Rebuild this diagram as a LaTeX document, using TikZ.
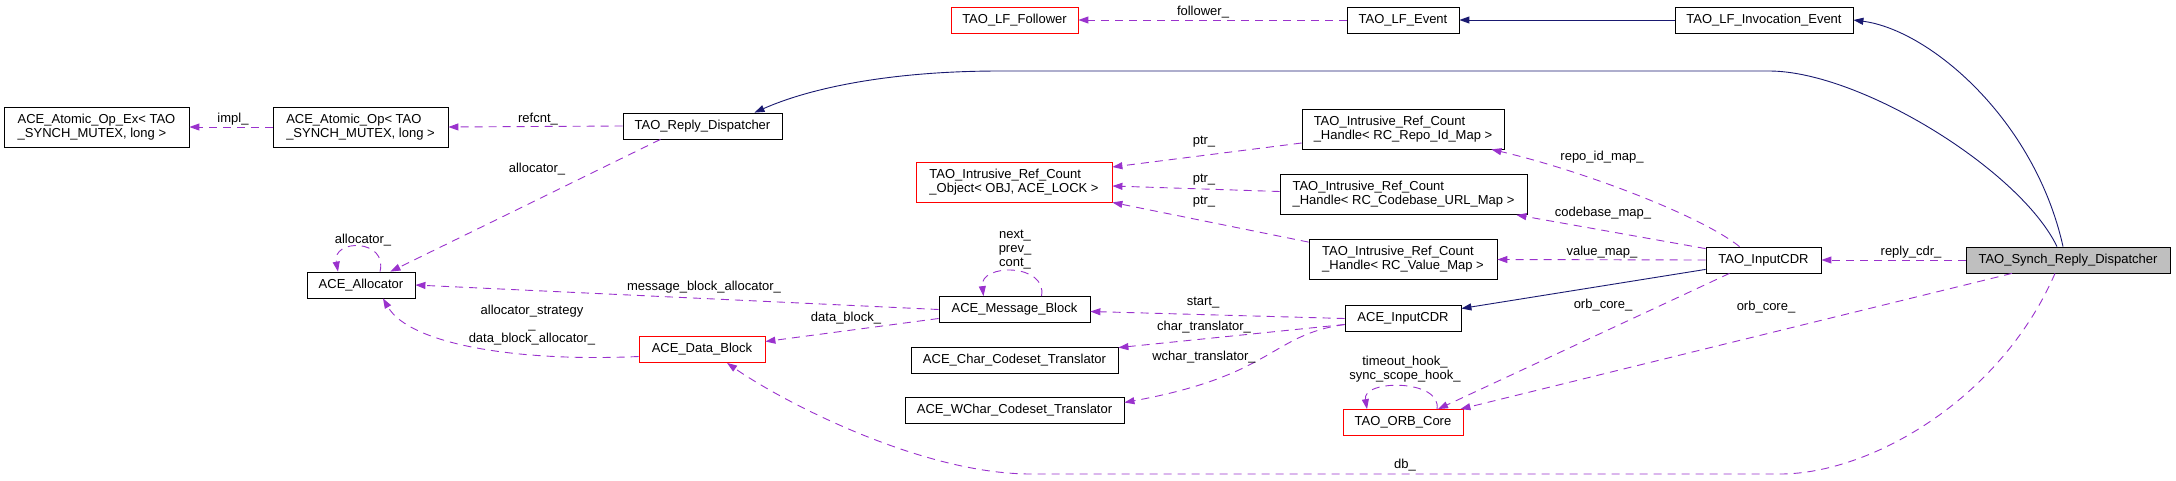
\documentclass[tikz,border=0pt]{standalone}
\usepackage{fontspec}
\setmainfont{Liberation Sans}
\usetikzlibrary{arrows.meta,calc}
\definecolor{mbrcol}{HTML}{9A32CD}
\definecolor{inhcol}{HTML}{191970}
\begin{document}
\begin{tikzpicture}[x=1pt,y=-1pt,font=\fontsize{13}{14}\selectfont,
    cls/.style={draw,line width=0.8pt,inner sep=0pt,minimum height=26pt,align=left},
    hot/.style={cls,draw=red},
    lbl/.style={inner sep=0pt,align=center},
    mbr/.style={draw=mbrcol,line width=0.9pt,dash pattern=on 8pt off 6pt,-{Triangle[length=10pt,width=7pt]}},
    inh/.style={draw=inhcol,line width=0.9pt,-{Triangle[length=10pt,width=7pt]}}]
    \useasboundingbox (0,0) rectangle (2176,480);

    \node[cls,minimum width=185pt,minimum height=40pt] (AOX) at (96.5,127) {ACE\_Atomic\_Op\_Ex< TAO\\\_SYNCH\_MUTEX, long >};
    \node[cls,minimum width=175pt,minimum height=40pt] (AO) at (360.5,127) {ACE\_Atomic\_Op< TAO\\\_SYNCH\_MUTEX, long >};
    \node[cls,minimum width=159pt] (RD) at (702.5,126) {TAO\_Reply\_Dispatcher};
    \node[hot,minimum width=127pt] (LFF) at (1014.5,20) {TAO\_LF\_Follower};
    \node[cls,minimum width=112pt] (LFE) at (1403,20) {TAO\_LF\_Event};
    \node[cls,minimum width=178pt] (LFI) at (1764,20) {TAO\_LF\_Invocation\_Event};
    \node[hot,minimum width=196pt,minimum height=40pt] (RCO) at (1014,182) {TAO\_Intrusive\_Ref\_Count\\\_Object< OBJ, ACE\_LOCK >};
    \node[cls,minimum width=202pt,minimum height=40pt] (HR) at (1403,129) {TAO\_Intrusive\_Ref\_Count\\\_Handle< RC\_Repo\_Id\_Map >};
    \node[cls,minimum width=247pt,minimum height=40pt] (HC) at (1403.5,194.5) {TAO\_Intrusive\_Ref\_Count\\\_Handle< RC\_Codebase\_URL\_Map >};
    \node[cls,minimum width=188pt,minimum height=40pt] (HV) at (1403,259.5) {TAO\_Intrusive\_Ref\_Count\\\_Handle< RC\_Value\_Map >};
    \node[cls,minimum width=108pt] (AL) at (361,285) {ACE\_Allocator};
    \node[cls,minimum width=151pt] (MB) at (1014.5,309.5) {ACE\_Message\_Block};
    \node[hot,minimum width=126pt] (DB) at (702,349.5) {ACE\_Data\_Block};
    \node[cls,minimum width=207pt] (CT) at (1014.5,360) {ACE\_Char\_Codeset\_Translator};
    \node[cls,minimum width=219pt] (WT) at (1014.5,410.5) {ACE\_WChar\_Codeset\_Translator};
    \node[cls,minimum width=116pt] (AIC) at (1403,318.5) {ACE\_InputCDR};
    \node[hot,minimum width=120pt] (OC) at (1403,422.5) {TAO\_ORB\_Core};
    \node[cls,minimum width=115pt] (TIC) at (1763.5,260) {TAO\_InputCDR};
    \node[cls,fill=gray!50,minimum width=204pt] (SRD) at (2068,260) {TAO\_Synch\_Reply\_Dispatcher};

    \draw[mbr] (AO.west) -- (AOX.east);
    \draw[mbr] (RD.west) -- (AO.east);
    \draw[mbr] ($(RD.south)+(-42,0)$) -- ($(AL.north east)+(-25,0)$);
    \draw[mbr] ($(AL.north)+(19,0)$) .. controls +(8,-33) and +(-6,-33) .. ($(AL.north)+(-23,0)$);
    \draw[mbr] (MB.west) -- (AL.east);
    \draw[mbr] ($(DB.west)+(0,7)$) .. controls (520,362) and (410,345) .. ($(AL.south)+(22,0)$);
    \draw[mbr] ($(MB.west)+(0,9)$) -- ($(DB.east)+(0,-8)$);
    \draw[mbr] ($(MB.north)+(27,0)$) .. controls +(6,-33) and +(-4,-33) .. ($(MB.north)+(-31,0)$);
    \draw[mbr] (LFE.west) -- (LFF.east);
    \draw[inh] (LFI.west) -- (LFE.east);
    \draw[inh] ($(SRD.north)+(-5,0)$) .. controls (2035,120) and (1930,30) .. (LFI.east);
    \draw[inh] ($(SRD.north)+(-11,0)$) .. controls (2020,170) and (1860,71) .. (1769,71) -- (1000,71) .. controls (890,71) and (810,88) .. ($(RD.north)+(52,0)$);
    \draw[mbr] ($(HR.west)+(0,14)$) -- ($(RCO.east)+(0,-15)$);
    \draw[mbr] ($(HC.west)+(0,-3)$) -- ($(RCO.east)+(0,4)$);
    \draw[mbr] ($(HV.north west)+(0,3)$) -- (RCO.south east);
    \draw[mbr] ($(TIC.north)+(-24,0)$) .. controls (1700,215) and (1580,170) .. ($(HR.south east)+(-13,0)$);
    \draw[mbr] ($(TIC.north west)+(0,2)$) -- ($(HC.south east)+(-11,0)$);
    \draw[mbr] (TIC.west) -- (HV.east);
    \draw[inh] ($(TIC.south west)+(0,-4)$) -- ($(AIC.east)+(0,-10)$);
    \draw[mbr] ($(TIC.south)+(-34,0)$) -- ($(OC.north)+(35,0)$);
    \draw[mbr] (SRD.west) -- (TIC.east);
    \draw[mbr] ($(SRD.south)+(-56,0)$) -- ($(OC.north east)+(-3,0)$);
    \draw[mbr] ($(SRD.south)+(-13,0)$) .. controls (2000,400) and (1870,474) .. (1780,474) -- (1031,474) .. controls (920,474) and (780,400) .. ($(DB.south)+(25,0)$);
    \draw[mbr] (AIC.west) -- ($(MB.east)+(0,2)$);
    \draw[mbr] ($(AIC.west)+(0,6)$) -- ($(CT.north east)+(0,1)$);
    \draw[mbr] ($(AIC.west)+(0,6)$) .. controls (1270,335) and (1275,375) .. ($(WT.east)+(0,-8)$);
    \draw[mbr] ($(OC.north)+(34,0)$) .. controls +(5,-30) and +(-5,-30) .. ($(OC.north)+(-36,0)$);

    \node[lbl] (impl) at (233,119) {impl\_};
    \node[lbl] (refcnt) at (538,119) {refcnt\_};
    \node[lbl] (alloc) at (537,169) {allocator\_};
    \node[lbl] (allocself) at (363,240) {allocator\_};
    \node[lbl] (mballoc) at (704,287) {message\_block\_allocator\_};
    \node[lbl] (dballoc) at (532,325) {allocator\_strategy\\\_\\data\_block\_allocator\_};
    \node[lbl] (dblock) at (846,318) {data\_block\_};
    \node[lbl] (mbself) at (1015,249.5) {next\_\\prev\_\\cont\_};
    \node[lbl] (follower) at (1203,12) {follower\_};
    \node[lbl] (ptrA) at (1204,142) {ptr\_};
    \node[lbl] (ptrB) at (1204,180) {ptr\_};
    \node[lbl] (ptrC) at (1204,202) {ptr\_};
    \node[lbl] (repo) at (1602,157) {repo\_id\_map\_};
    \node[lbl] (codebase) at (1603,213) {codebase\_map\_};
    \node[lbl] (valmap) at (1602,252) {value\_map\_};
    \node[lbl] (replycdr) at (1911,252) {reply\_cdr\_};
    \node[lbl] (start) at (1203,303) {start\_};
    \node[lbl] (chartr) at (1204,327) {char\_translator\_};
    \node[lbl] (wchartr) at (1204,357) {wchar\_translator\_};
    \node[lbl] (orbA) at (1603,305) {orb\_core\_};
    \node[lbl] (orbB) at (1766,307) {orb\_core\_};
    \node[lbl] (hooks) at (1405,369.5) {timeout\_hook\_\\sync\_scope\_hook\_};
    \node[lbl] (db) at (1405,465) {db\_};
\end{tikzpicture}
\end{document}
